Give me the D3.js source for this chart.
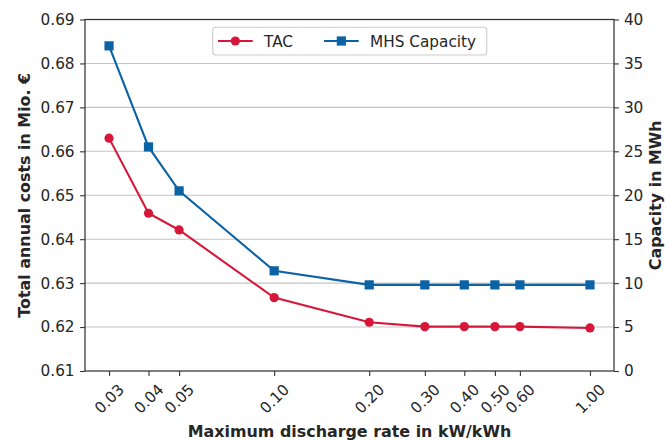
<!DOCTYPE html>
<html>
<head>
<meta charset="utf-8">
<script src="https://cdn.jsdelivr.net/npm/d3@7"></script>
<style>
html,body{margin:0;padding:0;background:#fff;}
svg{display:block;}
text{font-family:"DejaVu Sans",sans-serif;fill:#262626;}
</style>
</head>
<body>
<svg id="chart" width="665" height="440"></svg>
<script>
const rates = [0.03, 0.04, 0.05, 0.10, 0.20, 0.30, 0.40, 0.50, 0.60, 1.00];
const rateLabels = ["0.03","0.04","0.05","0.10","0.20","0.30","0.40","0.50","0.60","1.00"];
const tac = [0.6630, 0.6459, 0.6421, 0.6267, 0.6211, 0.6201, 0.6201, 0.6201, 0.6201, 0.6198];
const capacity = [37.0, 25.5, 20.5, 11.4, 9.8, 9.8, 9.8, 9.8, 9.8, 9.8];
const leftTicks = [0.61, 0.62, 0.63, 0.64, 0.65, 0.66, 0.67, 0.68, 0.69];
const rightTicks = [0, 5, 10, 15, 20, 25, 30, 35, 40];

const W = 665, H = 440;
const m = {left: 85, right: 614, top: 19.5, bottom: 371};
const red = "#d7173a", blue = "#0b62a4";
const fs = 15.3, fsLabel = 15.9;

const svg = d3.select("#chart");

const lmin = Math.log10(d3.min(rates)), lmax = Math.log10(d3.max(rates));
const pad = (lmax - lmin) * 0.05;
const x = d3.scaleLog().domain([Math.pow(10, lmin - pad), Math.pow(10, lmax + pad)]).range([m.left, m.right]);
const yL = d3.scaleLinear().domain([0.61, 0.69]).range([m.bottom, m.top]);
const yR = d3.scaleLinear().domain([0, 40]).range([m.bottom, m.top]);

// grid
svg.append("g").selectAll("line").data(leftTicks.slice(1, -1)).join("line")
  .attr("x1", m.left).attr("x2", m.right)
  .attr("y1", d => yL(d)).attr("y2", d => yL(d))
  .attr("stroke", "#c4c4c4").attr("stroke-width", 1.1);

// axes
const tickLen = 4.9;
const xAxis = d3.axisBottom(x).tickValues(rates).tickFormat((d, i) => rateLabels[i]).tickSize(tickLen).tickPadding(0);
const gx = svg.append("g").attr("transform", `translate(0,${m.bottom})`).call(xAxis);
gx.select(".domain").remove();
gx.selectAll(".tick line").attr("stroke", "#333").attr("stroke-width", 1.1);
gx.selectAll(".tick text").remove();
gx.selectAll(".tick").append("text")
  .attr("text-anchor", "middle")
  .attr("dominant-baseline", "central")
  .attr("transform", "translate(0,28) rotate(-45)")
  .style("font-size", fs + "px")
  .text((d, i) => rateLabels[i]);

const gl = svg.append("g").attr("transform", `translate(${m.left},0)`)
  .call(d3.axisLeft(yL).tickValues(leftTicks).tickFormat(d3.format(".2f")).tickSize(tickLen).tickPadding(5.5));
gl.select(".domain").remove();
gl.selectAll(".tick line").attr("stroke", "#333").attr("stroke-width", 1.1);
gl.selectAll(".tick text").style("font-size", fs + "px").style("font-family", "DejaVu Sans").attr("fill", "#262626");

const gr = svg.append("g").attr("transform", `translate(${m.right},0)`)
  .call(d3.axisRight(yR).tickValues(rightTicks).tickSize(tickLen).tickPadding(5));
gr.select(".domain").remove();
gr.selectAll(".tick line").attr("stroke", "#333").attr("stroke-width", 1.1);
gr.selectAll(".tick text").style("font-size", fs + "px").style("font-family", "DejaVu Sans").attr("fill", "#262626");

// lines
const lineTac = d3.line().x((d, i) => x(rates[i])).y(d => yL(d));
const lineCap = d3.line().x((d, i) => x(rates[i])).y(d => yR(d));
svg.append("path").datum(tac).attr("d", lineTac).attr("fill", "none").attr("stroke", red).attr("stroke-width", 2.1);
svg.append("g").selectAll("circle").data(tac).join("circle")
  .attr("cx", (d, i) => x(rates[i])).attr("cy", d => yL(d)).attr("r", 4.6).attr("fill", red);
svg.append("path").datum(capacity).attr("d", lineCap).attr("fill", "none").attr("stroke", blue).attr("stroke-width", 2.1);
const sq = 9.2;
svg.append("g").selectAll("rect").data(capacity).join("rect")
  .attr("x", (d, i) => x(rates[i]) - sq / 2).attr("y", d => yR(d) - sq / 2)
  .attr("width", sq).attr("height", sq).attr("fill", blue);

// spines
svg.append("rect").attr("x", m.left).attr("y", m.top).attr("width", m.right - m.left).attr("height", m.bottom - m.top)
  .attr("fill", "none").attr("stroke", "#333").attr("stroke-width", 1.25);

// legend
const lg = svg.append("g");
lg.append("rect").attr("x", 212.7).attr("y", 27.3).attr("width", 274).attr("height", 27.7).attr("rx", 3)
  .attr("fill", "#fff").attr("fill-opacity", 0.8).attr("stroke", "#cccccc").attr("stroke-width", 1.1);
const legendItems = [
  {name: "TAC", color: red, shape: "circle", x0: 218},
  {name: "MHS Capacity", color: blue, shape: "square", x0: 324}
];
const ly = 41;
legendItems.forEach(it => {
  lg.append("line").attr("x1", it.x0).attr("x2", it.x0 + 34.7).attr("y1", ly).attr("y2", ly)
    .attr("stroke", it.color).attr("stroke-width", 2.1);
  const cx = it.x0 + 17.35;
  if (it.shape === "circle") lg.append("circle").attr("cx", cx).attr("cy", ly).attr("r", 4.6).attr("fill", it.color);
  else lg.append("rect").attr("x", cx - sq / 2).attr("y", ly - sq / 2).attr("width", sq).attr("height", sq).attr("fill", it.color);
  lg.append("text").attr("x", it.x0 + 46).attr("y", ly).attr("dy", "0.36em").style("font-size", fs + "px").text(it.name);
});

// axis labels
svg.append("text").attr("x", (m.left + m.right) / 2).attr("y", 437).attr("text-anchor", "middle")
  .style("font-size", fsLabel + "px").style("font-weight", "bold").text("Maximum discharge rate in kW/kWh");
svg.append("text").attr("transform", `translate(29.5,${(m.top + m.bottom) / 2}) rotate(-90)`).attr("text-anchor", "middle")
  .style("font-size", fsLabel + "px").style("font-weight", "bold").text("Total annual costs in Mio. €");
svg.append("text").attr("transform", `translate(661,${(m.top + m.bottom) / 2}) rotate(-90)`).attr("text-anchor", "middle")
  .style("font-size", fsLabel + "px").style("font-weight", "bold").text("Capacity in MWh");
</script>
</body>
</html>
